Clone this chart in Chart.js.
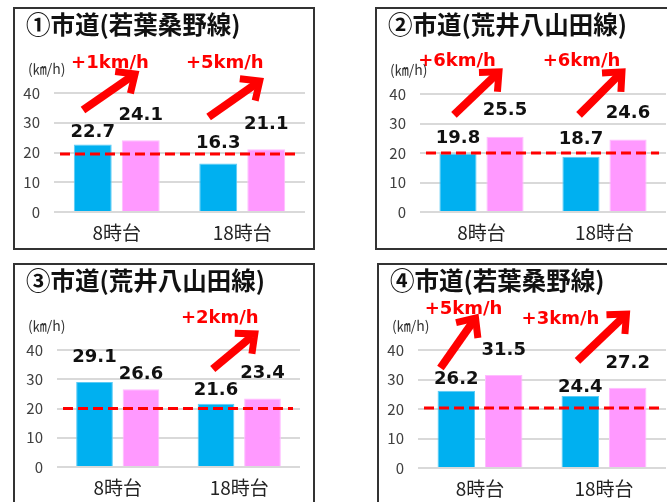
<!DOCTYPE html>
<html lang="ja">
<head>
<meta charset="utf-8">
<title>市道 旅行速度</title>
<script src="https://cdn.jsdelivr.net/npm/chart.js@4.4.1/dist/chart.umd.min.js"></script>
<style>
  html, body { margin: 0; padding: 0; background: #fff; overflow: hidden; }
  #page { position: relative; width: 667px; height: 502px; overflow: hidden; background: #fff; }
  #page canvas { position: absolute; border: 2px solid #333; background: #fff; }
</style>
</head>
<body>
<div id="page">
  <canvas id="chart0"></canvas>
  <canvas id="chart1"></canvas>
  <canvas id="chart2"></canvas>
  <canvas id="chart3"></canvas>
</div>
<script>
// データ
const categories = ["8時台", "18時台"];
const panelTitles = ["①市道(若葉桑野線)", "②市道(荒井八山田線)", "③市道(荒井八山田線)", "④市道(若葉桑野線)"];
const speedBefore = [
  [22.7, 16.3],
  [19.8, 18.7],
  [29.1, 21.6],
  [26.2, 24.4],
];
const speedAfter = [
  [24.1, 21.1],
  [25.5, 24.6],
  [26.6, 23.4],
  [31.5, 27.2],
];
const gainLabels = [
  ["+1km/h", "+5km/h"],
  ["+6km/h", "+6km/h"],
  [null, "+2km/h"],
  ["+5km/h", "+3km/h"],
];
const referenceSpeed = [19.5, 20, 20, 20.3];
const yTicks = [0, 10, 20, 30, 40];
const unitLabel = "(㎞/h)";

// レイアウト（ページ座標）: box = 枠, plot = グラフ領域
// arrows: [カテゴリ位置, 速度] で指定（軸のスケールで変換）
const panels = [
  {
    box: [13, 7, 315, 250], plot: [54, 93, 305, 212],
    lift: [[12, 20], [25, 25]],
    arrows: [
      { from: [-0.269, 34.3], to: [0.146, 46.4], text: [-0.054, 50.1] },
      { from: [0.732, 31.9], to: [1.139, 44.0], text: [0.861, 50.1] },
    ],
  },
  {
    box: [375, 7, 690, 250], plot: [420, 94, 666, 212],
    lift: [[15, 18], [26, 26]],
    arrows: [
      { from: [-0.224, 32.9], to: [0.142, 47.5], text: [-0.199, 51.2] },
      { from: [0.793, 32.9], to: [1.142, 47.5], text: [0.813, 51.2] },
    ],
  },
  {
    box: [13, 263, 315, 515], plot: [57, 350, 300, 467],
    lift: [[25, 13], [15, 25]],
    arrows: [
      null,
      { from: [0.782, 33.5], to: [1.128, 45.5], text: [0.84, 50.9] },
    ],
  },
  {
    box: [377, 263, 690, 515], plot: [418, 350, 666, 468],
    lift: [[11, 9], [25, 24]],
    arrows: [
      { from: [-0.319, 33.9], to: [-0.036, 50.8], text: [-0.133, 53.9] },
      { from: [0.786, 36.3], to: [1.181, 52.2], text: [0.649, 50.5] },
    ],
  },
];

const JP = '"Noto Sans CJK JP", "Noto Sans", sans-serif';
const NUM = '"DejaVu Sans", Verdana, sans-serif';
const BORDER = 2;

function drawArrow(c, x0, y0, x1, y1) {
  const ang = Math.atan2(y1 - y0, x1 - x0);
  const wing = 20;
  const spread = Math.PI / 4.3;
  c.save();
  c.strokeStyle = "#ff0000";
  c.lineWidth = 8;
  c.lineCap = "butt";
  c.beginPath();
  c.moveTo(x0, y0);
  c.lineTo(x1 - 4 * Math.cos(ang), y1 - 4 * Math.sin(ang));
  c.stroke();
  c.lineWidth = 7;
  c.lineJoin = "miter";
  c.beginPath();
  c.moveTo(x1 - wing * Math.cos(ang - spread), y1 - wing * Math.sin(ang - spread));
  c.lineTo(x1, y1);
  c.lineTo(x1 - wing * Math.cos(ang + spread), y1 - wing * Math.sin(ang + spread));
  c.stroke();
  c.restore();
}

const overlayPlugin = {
  id: "overlay",
  afterDatasetsDraw(chart, args, opts) {
    const k = opts.index;
    const p = panels[k];
    const c = chart.ctx;
    const xs = chart.scales.x;
    const ys = chart.scales.y;
    const area = chart.chartArea;

    // 基準線（点線）
    const yRef = ys.getPixelForValue(referenceSpeed[k]);
    c.save();
    c.strokeStyle = "#ff0000";
    c.lineWidth = 3;
    c.setLineDash([10, 5]);
    c.beginPath();
    c.moveTo(area.left + 6, yRef);
    c.lineTo(area.right - 7, yRef);
    c.stroke();
    c.restore();

    // 数値ラベル
    c.save();
    c.fillStyle = "#111";
    c.font = "bold 18px " + NUM;
    c.textAlign = "center";
    c.textBaseline = "middle";
    chart.data.datasets.forEach((ds, d) => {
      chart.getDatasetMeta(d).data.forEach((bar, i) => {
        c.fillText(ds.data[i].toFixed(1), bar.x, bar.y - p.lift[d][i]);
      });
    });
    c.restore();

    // 矢印と増加量
    p.arrows.forEach((a, i) => {
      if (!a || !gainLabels[k][i]) return;
      drawArrow(
        c,
        xs.getPixelForValue(a.from[0]), ys.getPixelForValue(a.from[1]),
        xs.getPixelForValue(a.to[0]), ys.getPixelForValue(a.to[1])
      );
      c.save();
      c.fillStyle = "#ff0000";
      c.font = "bold 18px " + NUM;
      c.textAlign = "center";
      c.textBaseline = "middle";
      c.fillText(gainLabels[k][i], xs.getPixelForValue(a.text[0]), ys.getPixelForValue(a.text[1]));
      c.restore();
    });
  },
  afterDraw(chart, args, opts) {
    const k = opts.index;
    const c = chart.ctx;
    c.save();
    c.fillStyle = "#111";
    c.font = "bold 24.5px " + JP;
    c.textAlign = "left";
    c.textBaseline = "middle";
    c.fillText(panelTitles[k], 11, 16);
    c.fillStyle = "#333";
    c.font = "14px " + JP;
    c.fillText(unitLabel, 13, chart.chartArea.top - 24);
    c.restore();
  },
};

panels.forEach((p, k) => {
  const canvas = document.getElementById("chart" + k);
  const W = p.box[2] - p.box[0] - 2 * BORDER;
  const H = p.box[3] - p.box[1] - 2 * BORDER;
  const ox = p.box[0] + BORDER;
  const oy = p.box[1] + BORDER;
  canvas.width = W;
  canvas.height = H;
  // Chart.js は既定で border-box にするので、枠線分だけ縮まないように
  canvas.style.boxSizing = "content-box";
  canvas.style.left = p.box[0] + "px";
  canvas.style.top = p.box[1] + "px";

  const left = p.plot[0] - ox;
  const top = p.plot[1] - oy;
  const right = p.plot[2] - ox;
  const bottom = p.plot[3] - oy;

  new Chart(canvas.getContext("2d"), {
    type: "bar",
    data: {
      labels: categories,
      datasets: [
        {
          label: "導入前",
          data: speedBefore[k],
          backgroundColor: "#00B0F0",
          borderColor: "#5ccbf5",
          borderWidth: 1,
        },
        {
          label: "導入後",
          data: speedAfter[k],
          backgroundColor: "#FF99FF",
          borderColor: "#ffbdff",
          borderWidth: 1,
        },
      ],
    },
    options: {
      responsive: false,
      animation: false,
      devicePixelRatio: 1,
      layout: { padding: { left: 0, top: top, right: W - right, bottom: 0 } },
      datasets: { bar: { categoryPercentage: 0.765, barPercentage: 0.79 } },
      plugins: {
        legend: { display: false },
        tooltip: { enabled: false },
        title: { display: false },
        overlay: { index: k },
      },
      scales: {
        x: {
          grid: { display: false },
          border: { display: false },
          ticks: { color: "#222", padding: 1, font: { family: JP, size: 19 } },
          afterFit: (s) => { s.height = H - bottom; },
        },
        y: {
          min: 0,
          max: 40,
          afterBuildTicks: (s) => { s.ticks = yTicks.map((v) => ({ value: v })); },
          grid: { color: "#d9d9d9", lineWidth: 2, drawTicks: false },
          border: { display: false },
          ticks: { color: "#404040", padding: 14, font: { family: JP, size: 15 } },
          afterFit: (s) => { s.width = left; },
        },
      },
    },
    plugins: [overlayPlugin],
  });
});
</script>
</body>
</html>
